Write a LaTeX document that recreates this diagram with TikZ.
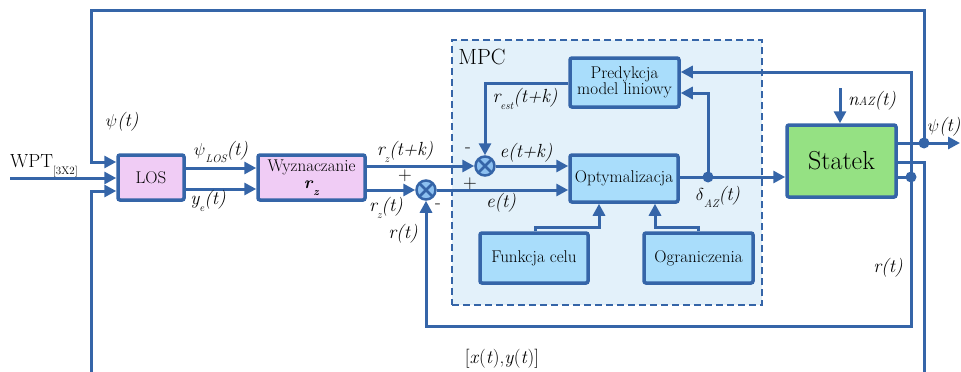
\documentclass[tikz,border=0pt]{standalone}
\usepackage{fontspec}
\usetikzlibrary{arrows.meta}
\definecolor{lb}{HTML}{3565A8}
\definecolor{pinkf}{HTML}{F0CCF5}
\definecolor{boxf}{HTML}{A9DDFB}
\definecolor{greenf}{HTML}{95E183}
\definecolor{mpcf}{HTML}{E3F1FA}
\definecolor{sjf}{HTML}{8CC0F0}
\newcommand{\lsub}[1]{\raisebox{-0.4em}{\fontsize{11}{11}\selectfont #1}}
\tikzset{
  ln/.style={draw=lb, line width=3pt},
  arr/.style={ln, -{Triangle[length=12pt,width=12pt]}},
  blk/.style={draw=lb, line width=3.5pt, rounded corners=2pt, inner sep=0pt, align=center, text=black, font=\fontsize{17}{19}\selectfont},
  lab/.style={inner sep=0pt, text=black, font=\fontsize{19}{21}\selectfont\itshape},
  sgn/.style={inner sep=0pt, text=black, font=\fontsize{19}{21}\selectfont},
  dot/.style={circle, fill=lb, minimum size=11pt, inner sep=0pt},
  sj/.style={circle, draw=lb, line width=2.5pt, fill=sjf, minimum size=19pt, inner sep=0pt,
    path picture={\draw[lb, line width=2.5pt] (path picture bounding box.north west)--(path picture bounding box.south east)
      (path picture bounding box.north east)--(path picture bounding box.south west);}},
}
\begin{document}
\begin{tikzpicture}[x=1pt,y=-1pt]
\useasboundingbox (0,0) rectangle (961,372);
% MPC region
\node[draw=lb, fill=mpcf, line width=2pt, dash pattern=on 7pt off 4pt, minimum width=310pt, minimum height=265pt, inner sep=0pt] (mpc) at (607,172.5) {};
\node[inner sep=0pt, font=\fontsize{22}{24}\selectfont] (mpclab) at (482,57) {MPC};
% blocks
\node[blk, fill=pinkf, minimum width=66pt, minimum height=45pt] (los) at (151,177.5) {LOS};
\node[blk, fill=pinkf, minimum width=107pt, minimum height=45pt] (wyz) at (311.5,177.5) {Wyznaczanie\\[-2pt]\textbf{\textit{r}}\lsub{\textbf{\textit{z}}}};
\node[blk, fill=boxf, minimum width=109pt, minimum height=49pt] (pred) at (624.5,82.5) {Predykcja\\[-3pt]model liniowy};
\node[blk, fill=boxf, minimum width=108pt, minimum height=47pt] (opt) at (624,178.5) {Optymalizacja};
\node[blk, fill=boxf, minimum width=108pt, minimum height=50pt] (fun) at (534,258) {Funkcja celu};
\node[blk, fill=boxf, minimum width=109pt, minimum height=50pt] (ogr) at (698.5,258) {Ograniczenia};
\node[blk, fill=greenf, minimum width=109pt, minimum height=72pt, font=\fontsize{26}{28}\selectfont] (stat) at (841.5,161) {Statek};
% junctions
\node[sj] (sj1) at (485,166) {};
\node[sj] (sj2) at (426,190) {};
% dots
\node[dot] (d1) at (924,143) {};
\node[dot] (d2) at (911,177) {};
\node[dot] (d3) at (708,177) {};
% helper coordinates
\coordinate (tl) at (91,10);
\coordinate (tr) at (924,10);
\coordinate (k1) at (91,162);
\coordinate (wpt) at (10,178);
\coordinate (k2) at (91,372);
\coordinate (k3) at (91,191);
\coordinate (k4) at (924,162);
\coordinate (k5) at (924,372);
\coordinate (psiend) at (960,143);
\coordinate (r1) at (911,72);
\coordinate (r2) at (911,326);
\coordinate (r3) at (426,326);
\coordinate (y168) at (0,168);
\coordinate (y189) at (0,189);
\coordinate (e1) at (485,83);
\coordinate (p1) at (708,93);
\coordinate (f1) at (535,227);
\coordinate (f2) at (599,227);
\coordinate (g1) at (698,227);
\coordinate (g2) at (655,227);
\coordinate (nz) at (840,88);
% connectors
\draw[arr] (d1.center) -- (tr) -- (tl) -- (k1) -- (k1 -| los.west);
\draw[ln] (stat.east |- d1) -- (d1.center);
\draw[arr] (d1.center) -- (psiend);
\draw[ln] (stat.east |- k4) -- (k4) -- (k5);
\draw[arr] (k2) -- (k3) -- (k3 -| los.west);
\draw[arr] (wpt) -- (wpt -| los.west);
\draw[ln] (stat.east |- d2) -- (d2.center);
\draw[arr] (d2.center) -- (r1) -- (r1 -| pred.east);
\draw[arr] (d2.center) -- (r2) -- (r3) -- (sj2.south);
\draw[arr] (los.east |- y168) -- (y168 -| wyz.west);
\draw[arr] (los.east |- y189) -- (y189 -| wyz.west);
\draw[arr] (wyz.east |- sj1) -- (sj1.west);
\draw[arr] (wyz.east |- sj2) -- (sj2.west);
\draw[arr] (sj1.east) -- (sj1 -| opt.west);
\draw[arr] (sj2.east) -- (sj2 -| opt.west);
\draw[arr] (pred.west |- e1) -- (e1) -- (sj1.north);
\draw[arr] (opt.east |- d3) -- (d3 -| stat.west);
\draw[arr] (d3.center) -- (p1) -- (p1 -| pred.east);
\draw[arr] (fun.north -| f1) -- (f1) -- (f2) -- (f2 |- opt.south);
\draw[arr] (ogr.north -| g1) -- (g1) -- (g2) -- (g2 |- opt.south);
\draw[arr] (nz) -- (nz |- stat.north);
% labels
\node[lab] (l1) at (122,122) {$\psi$(t)};
\node[inner sep=0pt, anchor=base west, font=\fontsize{19}{21}\selectfont] (l2) at (10,167) {WPT\lsub{[3X2]}};
\node[lab] (l3) at (221,152) {$\psi$\lsub{\itshape LOS}(t)};
\node[lab] (l4) at (208,201) {y\lsub{\itshape e}(t)};
\node[lab] (l5) at (405,152) {r\lsub{\itshape z}(t+k)};
\node[lab] (l6) at (386,208) {r\lsub{\itshape z}(t)};
\node[sgn] (l7) at (405,176) {+};
\node[sgn] (l8) at (438,206) {-};
\node[lab] (l9) at (403,234) {r(t)};
\node[sgn] (l10) at (468,150) {-};
\node[sgn] (l11) at (470,184) {+};
\node[lab] (l12) at (526,153) {e(t+k)};
\node[lab] (l13) at (501,203) {e(t)};
\node[lab] (l14) at (525,99) {r\lsub{\itshape est}(t+k)};
\node[lab] (l15) at (718,197) {$\delta$\lsub{\itshape AZ}(t)};
\node[lab] (l16) at (872,101) {n{\fontsize{12}{12}\selectfont AZ}(t)};
\node[lab] (l17) at (944,127) {$\psi$(t)};
\node[lab] (l18) at (888,268) {r(t)};
\node[sgn] (l19) at (502,359) {[\textit{x}(\textit{t}),\textit{y}(\textit{t})]};
\end{tikzpicture}
\end{document}
